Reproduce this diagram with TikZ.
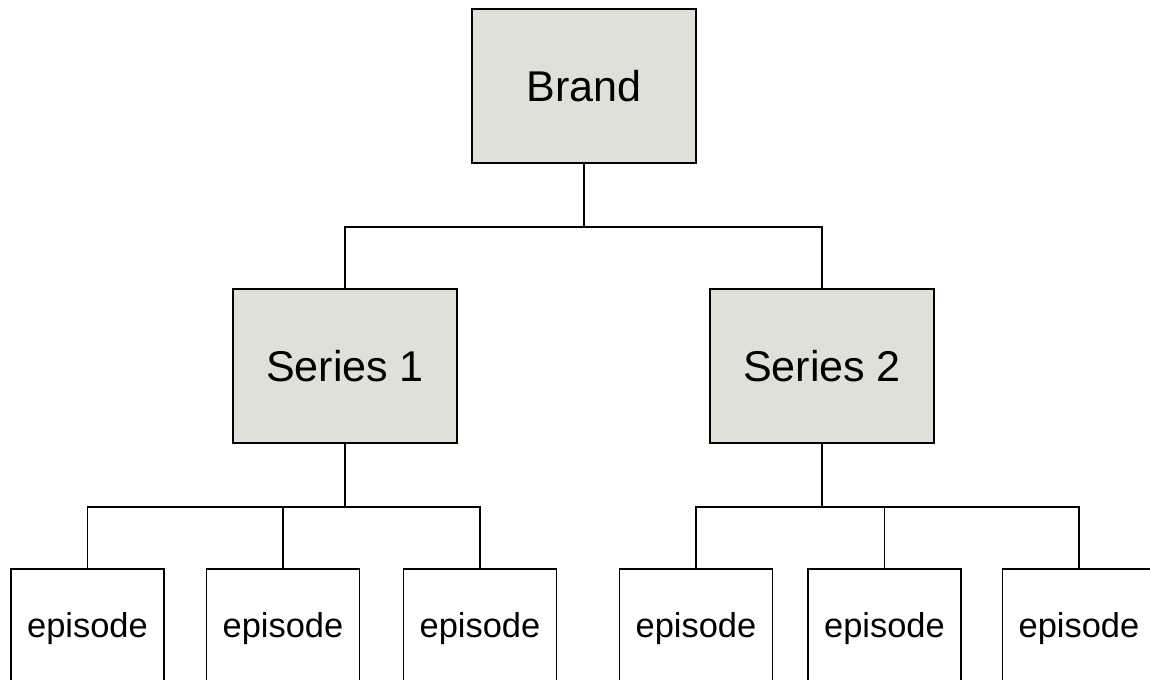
\documentclass[tikz,border=0pt]{standalone}
\usepackage{fontspec}
\setmainfont{Liberation Sans}
\usepackage{tikz}
\definecolor{boxgray}{RGB}{224,223,216}
\tikzstyle{level} = [rectangle,
minimum width=4.48cm,
minimum height=3.08cm,
text centered,
draw=black,
line width=1.1pt,
fill=boxgray,
font=\fontsize{24.5}{28}\selectfont]
\tikzstyle{episode} = [rectangle,
minimum width=3.06cm,
minimum height=2.4cm,
text centered,
draw=black,
line width=1.1pt,
fill=white,
font=\fontsize{19.6}{23}\selectfont]
\tikzstyle{line} = [line width=1.1pt, black]

\begin{document}
\begin{tikzpicture}[node distance=5.6cm]
\useasboundingbox (-11.68,1.72) rectangle (11.32,-11.88);

\node (brand) [level] {Brand};
\node (series1) [level, below of=brand, xshift=-4.78cm] {Series 1};
\node (series2) [level, below of=brand, xshift=4.76cm] {Series 2};

\node (ep11) [episode, below of=series1, xshift=-5.15cm, yshift=0.34cm] {episode};
\node (ep12) [episode, below of=series1, xshift=-1.24cm, yshift=0.34cm] {episode};
\node (ep13) [episode, below of=series1, xshift=2.7cm, yshift=0.34cm] {episode};

\node (ep21) [episode, below of=series2, xshift=-2.52cm, yshift=0.34cm] {episode};
\node (ep22) [episode, below of=series2, xshift=1.25cm, yshift=0.34cm] {episode};
\node (ep23) [episode, below of=series2, xshift=5.14cm, yshift=0.34cm] {episode};

\draw [line] (brand.south) -- ++(0,-1.26) -| (series1.north);
\draw [line] (brand.south) -- ++(0,-1.26) -| (series2.north);

\draw [line] (series1.south) -- ++(0,-1.26) -| (ep11.north);
\draw [line] (series1.south) -- ++(0,-1.26) -| (ep12.north);
\draw [line] (series1.south) -- ++(0,-1.26) -| (ep13.north);

\draw [line] (series2.south) -- ++(0,-1.26) -| (ep21.north);
\draw [line] (series2.south) -- ++(0,-1.26) -| (ep22.north);
\draw [line] (series2.south) -- ++(0,-1.26) -| (ep23.north);

\end{tikzpicture}
\end{document}
